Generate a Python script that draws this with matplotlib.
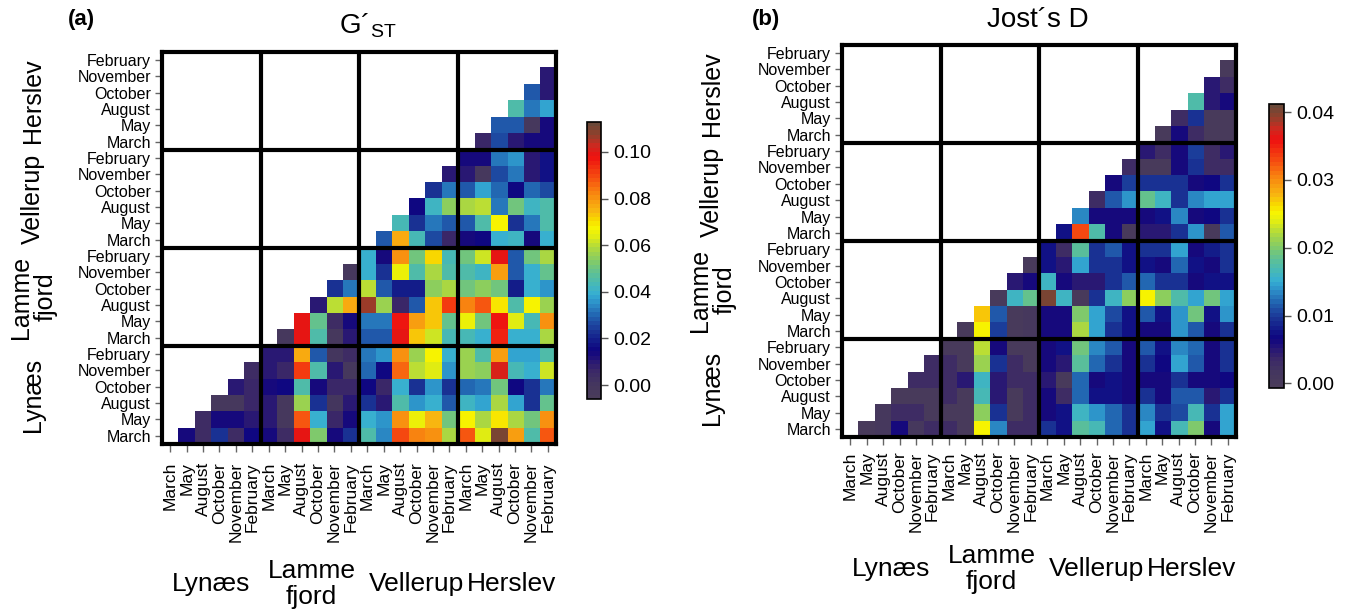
import numpy as np
import matplotlib
matplotlib.use("Agg")
import matplotlib.pyplot as plt
from matplotlib.colors import LinearSegmentedColormap

plt.rcParams['font.family'] = ['Liberation Sans', 'DejaVu Sans']
plt.rcParams['mathtext.fontset'] = 'custom'
plt.rcParams['mathtext.rm'] = 'Liberation Sans'

sites = ['Lynæs', 'Lamme\nfjord', 'Vellerup', 'Herslev']
months = ['March', 'May', 'August', 'October', 'November', 'February']

# pairwise values, upper triangle: row i holds columns i+1 .. 23
# (order of rows/cols = sites x months, Lynæs March first)
gst_rows = [
    [0.014, 0.005, 0.023, 0.005, 0.016, 0.014, 0.005, 0.099, 0.053, 0.014, 0.023, 0.046,
     0.034, 0.089, 0.083, 0.081, 0.058, 0.087, 0.064, 0.111, 0.079, 0.046, 0.087],
    [0.005, 0.014, 0.014, 0.010, 0.010, -0.002, 0.087, 0.040, 0.007, 0.014, 0.039,
     0.036, 0.081, 0.066, 0.074, 0.051, 0.067, 0.058, 0.070, 0.058, 0.051, 0.081],
    [-0.002, -0.001, 0.006, 0.009, -0.002, 0.056, 0.022, 0.000, 0.009, 0.023, 0.009,
     0.046, 0.036, 0.040, 0.028, 0.042, 0.038, 0.058, 0.038, 0.023, 0.049],
    [0.009, 0.006, 0.014, 0.015, 0.046, 0.014, 0.006, 0.006, 0.015, 0.006, 0.039,
     0.023, 0.036, 0.023, 0.030, 0.033, 0.051, 0.015, 0.023, 0.033],
    [0.005, 0.010, 0.006, 0.092, 0.045, 0.010, -0.002, 0.031, 0.015, 0.086, 0.060,
     0.064, 0.036, 0.056, 0.054, 0.100, 0.044, 0.039, 0.062],
    [0.010, 0.009, 0.076, 0.028, 0.000, 0.005, 0.032, 0.036, 0.081, 0.056, 0.067,
     0.039, 0.056, 0.046, 0.079, 0.038, 0.038, 0.046],
    [-0.002, 0.099, 0.045, -0.002, 0.009, 0.029, 0.029, 0.099, 0.073, 0.062, 0.044,
     0.043, 0.039, 0.096, 0.039, 0.039, 0.058],
    [0.099, 0.049, 0.005, 0.014, 0.033, 0.033, 0.097, 0.079, 0.073, 0.049, 0.065,
     0.051, 0.097, 0.064, 0.044, 0.081],
    [0.009, 0.060, 0.076, 0.107, 0.056, 0.006, 0.029, 0.073, 0.092, 0.083, 0.087,
     0.070, 0.046, 0.067, 0.056],
    [0.022, 0.033, 0.060, 0.029, 0.019, 0.019, 0.054, 0.058, 0.051, 0.054, 0.051,
     0.020, 0.039, 0.036],
    [-0.002, 0.039, 0.023, 0.065, 0.046, 0.058, 0.046, 0.046, 0.042, 0.079, 0.028,
     0.039, 0.049],
    [0.039, 0.014, 0.081, 0.051, 0.071, 0.043, 0.051, 0.062, 0.099, 0.028, 0.051, 0.058],
    [0.029, 0.076, 0.044, 0.026, 0.006, 0.014, 0.015, 0.039, 0.042, 0.013, 0.039],
    [0.044, 0.023, 0.033, 0.029, 0.029, 0.045, 0.067, 0.023, 0.033, 0.046],
    [0.015, 0.042, 0.054, 0.058, 0.060, 0.033, 0.051, 0.042, 0.045],
    [0.022, 0.032, 0.029, 0.038, 0.031, 0.015, 0.031, 0.026],
    [0.009, 0.010, -0.001, 0.026, 0.033, 0.009, 0.018],
    [0.014, 0.013, 0.033, 0.035, 0.009, 0.018],
    [0.007, 0.026, 0.010, 0.013, 0.013],
    [0.028, 0.029, -0.001, 0.014],
    [0.046, 0.032, 0.038],
    [0.029, 0.010],
    [0.010],
]

jost_rows = [
    [0.0006, 0.0007, 0.0064, 0.0007, 0.0031, 0.0031, 0.0006, 0.0249, 0.0131, 0.0030, 0.0030,
     0.0094, 0.0077, 0.0177, 0.0169, 0.0123, 0.0094, 0.0150, 0.0077, 0.0169, 0.0201, 0.0064, 0.0149],
    [0.0007, 0.0030, 0.0031, 0.0006, 0.0006, 0.0006, 0.0203, 0.0092, 0.0006, 0.0031, 0.0065,
     0.0077, 0.0161, 0.0142, 0.0123, 0.0092, 0.0131, 0.0092, 0.0106, 0.0169, 0.0092, 0.0149],
    [0.0006, 0.0006, 0.0006, 0.0031, 0.0006, 0.0169, 0.0047, 0.0006, 0.0031, 0.0064, 0.0031,
     0.0123, 0.0078, 0.0077, 0.0064, 0.0094, 0.0064, 0.0113, 0.0115, 0.0047, 0.0094],
    [0.0031, 0.0031, 0.0031, 0.0049, 0.0161, 0.0047, 0.0031, 0.0031, 0.0049, 0.0006, 0.0123,
     0.0064, 0.0077, 0.0064, 0.0065, 0.0065, 0.0094, 0.0065, 0.0064, 0.0067],
    [0.0031, 0.0031, 0.0006, 0.0211, 0.0092, 0.0031, 0.0006, 0.0064, 0.0047, 0.0177, 0.0123,
     0.0094, 0.0064, 0.0094, 0.0067, 0.0150, 0.0115, 0.0065, 0.0094],
    [0.0006, 0.0006, 0.0226, 0.0064, 0.0006, 0.0006, 0.0064, 0.0077, 0.0194, 0.0131, 0.0113,
     0.0065, 0.0113, 0.0077, 0.0131, 0.0123, 0.0065, 0.0092],
    [0.0006, 0.0249, 0.0104, 0.0006, 0.0007, 0.0064, 0.0064, 0.0221, 0.0150, 0.0094, 0.0077,
     0.0065, 0.0064, 0.0142, 0.0113, 0.0065, 0.0094],
    [0.0268, 0.0113, 0.0006, 0.0007, 0.0064, 0.0065, 0.0200, 0.0150, 0.0106, 0.0077, 0.0113,
     0.0077, 0.0142, 0.0194, 0.0075, 0.0142],
    [0.0006, 0.0160, 0.0186, 0.0404, 0.0161, 0.0006, 0.0092, 0.0161, 0.0205, 0.0249, 0.0205,
     0.0176, 0.0150, 0.0194, 0.0149],
    [0.0047, 0.0065, 0.0160, 0.0064, 0.0047, 0.0047, 0.0094, 0.0113, 0.0123, 0.0094, 0.0094,
     0.0064, 0.0077, 0.0075],
    [0.0006, 0.0074, 0.0047, 0.0149, 0.0092, 0.0092, 0.0077, 0.0077, 0.0065, 0.0123, 0.0075,
     0.0065, 0.0092],
    [0.0075, 0.0031, 0.0177, 0.0094, 0.0113, 0.0077, 0.0092, 0.0094, 0.0149, 0.0064, 0.0079, 0.0094],
    [0.0077, 0.0328, 0.0176, 0.0064, 0.0006, 0.0047, 0.0047, 0.0094, 0.0142, 0.0006, 0.0113],
    [0.0131, 0.0064, 0.0065, 0.0064, 0.0064, 0.0077, 0.0131, 0.0064, 0.0067, 0.0094],
    [0.0031, 0.0115, 0.0142, 0.0186, 0.0160, 0.0092, 0.0131, 0.0149, 0.0149],
    [0.0064, 0.0104, 0.0094, 0.0094, 0.0094, 0.0064, 0.0067, 0.0092],
    [0.0031, 0.0006, 0.0006, 0.0064, 0.0094, 0.0031, 0.0031],
    [0.0047, 0.0031, 0.0065, 0.0104, 0.0031, 0.0047],
    [0.0006, 0.0064, 0.0031, 0.0006, 0.0006],
    [0.0031, 0.0094, 0.0006, 0.0006],
    [0.0176, 0.0047, 0.0064],
    [0.0047, 0.0031],
    [0.0006],
]

gst_ticks = [0.00, 0.02, 0.04, 0.06, 0.08, 0.10]
jost_ticks = [0.00, 0.01, 0.02, 0.03, 0.04]

cmap = LinearSegmentedColormap.from_list('pop', [
    (0.00, '#4a3c5a'), (0.05, '#44365f'), (0.10, '#3a2669'), (0.14, '#221278'),
    (0.17, '#0f0580'), (0.20, '#121888'), (0.24, '#1a3394'), (0.27, '#1e4aa2'),
    (0.30, '#2266b2'), (0.33, '#2a84c2'), (0.36, '#30a0d0'), (0.38, '#38b0d0'),
    (0.41, '#46b8b8'), (0.44, '#56bea0'), (0.47, '#6cc484'), (0.50, '#86cc64'),
    (0.53, '#a0d44c'), (0.56, '#c0e030'), (0.59, '#e4ee10'), (0.62, '#f8f400'),
    (0.65, '#f8d800'), (0.68, '#f8b810'), (0.72, '#f89a10'), (0.76, '#f87810'),
    (0.80, '#f65010'), (0.84, '#f23010'), (0.88, '#ee1010'), (0.92, '#cc2a20'),
    (0.96, '#90402c'), (1.00, '#6a4838')], N=64)
cmap.set_bad('white')


def to_matrix(rows):
    m = np.full((24, 24), np.nan)
    for i, r in enumerate(rows):
        m[i, i + 1:] = r
    return m


def panel(fig, rect, crect, rows, vmin, vmax, ticks, left_x, bottom_y, xpad):
    ax = fig.add_axes(rect)
    im = ax.imshow(to_matrix(rows), cmap=cmap, vmin=vmin, vmax=vmax, origin='lower',
                   extent=(0, 24, 0, 24), aspect='auto', interpolation='nearest')
    for k in (6, 12, 18):
        ax.axhline(k, color='black', lw=3)
        ax.axvline(k, color='black', lw=3)
    for s in ax.spines.values():
        s.set_linewidth(3)
    pos = np.arange(24) + 0.5
    labels = months * 4
    ax.set_xticks(pos)
    ax.set_xticklabels(labels, rotation=90, fontsize=12.5)
    ax.set_yticks(pos)
    ax.set_yticklabels(labels, fontsize=11.5)
    ax.tick_params(axis='y', length=5, width=1, color='#666666', pad=3)
    ax.tick_params(axis='x', length=5.5, width=1, color='#666666', pad=xpad)
    ax.set_xlim(0, 24)
    ax.set_ylim(0, 24)

    # site names along both axes
    for k, s in enumerate(sites):
        ax.text(left_x, 6 * k + 3, s, rotation=90, ha='center', va='center',
                fontsize=18, transform=ax.get_yaxis_transform(), linespacing=1.05)
    xs = [3, 9.1, 15.5, 21.3]
    for k, s in enumerate(sites):
        ax.text(xs[k], bottom_y, s, ha='center', va='center', fontsize=19,
                transform=ax.get_xaxis_transform(), linespacing=1.1)

    cax = fig.add_axes(crect)
    cb = fig.colorbar(im, cax=cax, ticks=ticks)
    cb.ax.set_yticklabels(['%.2f' % t for t in ticks], fontsize=14)
    cb.ax.tick_params(length=5, width=1, color='#555555')
    cb.outline.set_linewidth(1.2)
    return ax


fig = plt.figure(figsize=(13.49, 6.13), dpi=100)

panel(fig, [0.1201, 0.2757, 0.2921, 0.6395], [0.4351, 0.3491, 0.0104, 0.4524],
      gst_rows, -0.006, 0.113, gst_ticks, -0.327, -0.357, 7.5)
panel(fig, [0.6242, 0.2871, 0.2921, 0.6395], [0.9407, 0.3670, 0.0111, 0.4633],
      jost_rows, -0.0007, 0.0412, jost_ticks, -0.33, -0.337, 5)

fig.text(68 / 1349, 1 - 19 / 613, '(a)', fontsize=16, fontweight='bold', va='center')
fig.text(368 / 1349, 1 - 26 / 613, r'G´$_{\mathrm{ST}}$', fontsize=20, ha='center', va='center')
fig.text(752 / 1349, 1 - 19 / 613, '(b)', fontsize=16, fontweight='bold', va='center')
fig.text(1038 / 1349, 1 - 20 / 613, 'Jost´s D', fontsize=20, ha='center', va='center')

fig.savefig('out.png', dpi=100)
